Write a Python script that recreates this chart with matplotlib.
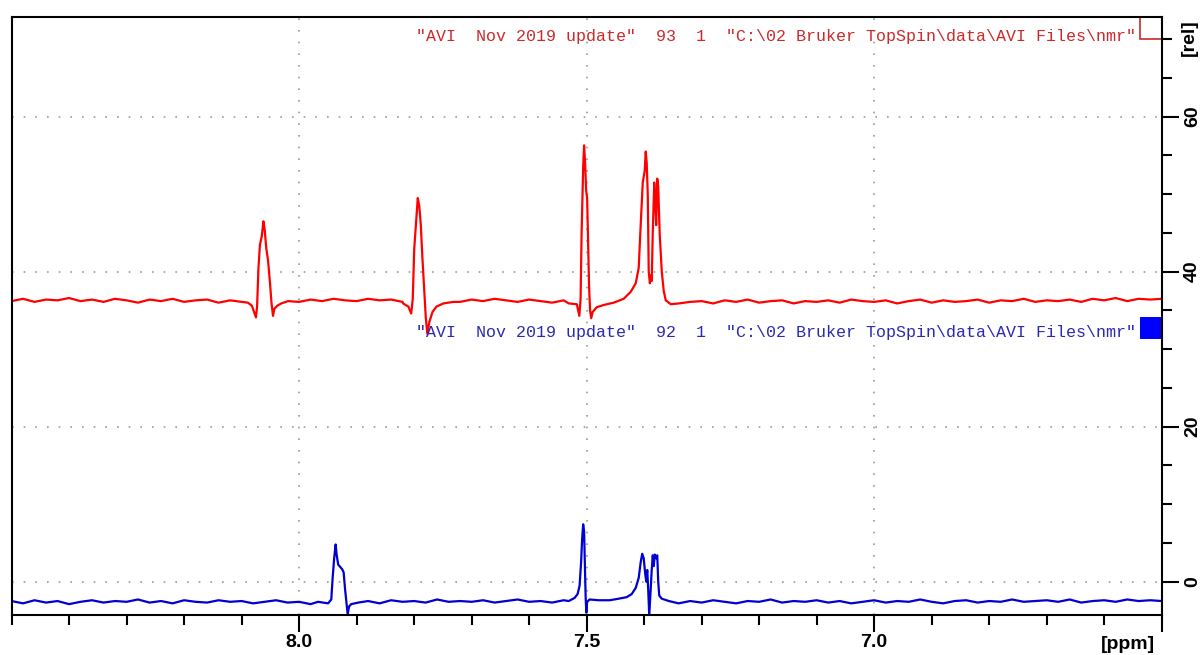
import numpy as np
import matplotlib.pyplot as plt
from matplotlib.patches import Rectangle
from matplotlib.ticker import MultipleLocator, FixedLocator
import matplotlib.transforms as mtrans

# baseline readings every 0.02 ppm from 8.50 down to 6.50
grid_ppm = np.linspace(8.5, 6.5, 101)

red_base = [36.2, 36.5, 36.1, 36.4, 36.3, 36.6, 36.2, 36.4, 36.1, 36.5,
            36.3, 36.0, 36.4, 36.2, 36.5, 36.1, 36.3, 36.4, 36.0, 36.3,
            36.1, 35.9, 36.2, 36.0, 36.2, 36.1, 36.4, 36.2, 36.5, 36.3,
            36.2, 36.5, 36.3, 36.4, 36.1, 36.3, 36.0, 35.8, 36.2, 36.1,
            36.4, 36.2, 36.5, 36.3, 36.1, 36.4, 36.2, 36.0, 36.3, 36.0,
            35.8, 35.6, 35.8, 36.2, 37.5, 38.0, 36.0, 36.0, 35.8, 36.1,
            36.2, 35.9, 36.3, 36.1, 36.4, 36.0, 36.2, 36.3, 35.9, 36.2,
            36.1, 36.3, 36.0, 36.4, 36.2, 36.1, 36.3, 35.9, 36.2, 36.4,
            36.0, 36.3, 36.1, 36.2, 36.4, 36.0, 36.3, 36.2, 36.5, 36.1,
            36.3, 36.2, 36.4, 36.1, 36.5, 36.3, 36.6, 36.2, 36.5, 36.4,
            36.5]

blue_base = [-2.5, -2.8, -2.4, -2.7, -2.5, -2.9, -2.6, -2.4, -2.7, -2.5,
             -2.6, -2.3, -2.7, -2.5, -2.8, -2.4, -2.6, -2.7, -2.4, -2.6,
             -2.5, -2.8, -2.6, -2.4, -2.7, -2.6, -2.9, -2.7, -2.5, -2.6,
             -2.7, -2.5, -2.8, -2.4, -2.6, -2.5, -2.7, -2.3, -2.6, -2.5,
             -2.6, -2.4, -2.7, -2.5, -2.3, -2.6, -2.5, -2.7, -2.4, -2.6,
             -2.6, -2.5, -2.4, -2.5, -2.3, -2.0, -2.0, -2.6, -2.8, -2.5,
             -2.7, -2.4, -2.6, -2.8, -2.5, -2.6, -2.3, -2.7, -2.5, -2.6,
             -2.4, -2.7, -2.5, -2.8, -2.6, -2.4, -2.7, -2.5, -2.6, -2.3,
             -2.6, -2.8, -2.5, -2.4, -2.7, -2.5, -2.6, -2.3, -2.6, -2.5,
             -2.4, -2.6, -2.3, -2.7, -2.5, -2.4, -2.6, -2.3, -2.5, -2.4,
             -2.5]

# peak regions, spectrum 93 (red)
red_p1_ppm = [8.089, 8.082, 8.075, 8.073, 8.0706, 8.068, 8.065, 8.062, 8.0599,
              8.057, 8.054, 8.0505, 8.048, 8.0453, 8.043, 8.038, 8.031, 8.019]
red_p1_val = [36.0, 35.6, 34.1, 35.5, 40.5, 43.5, 44.5, 46.5, 45.5,
              43.0, 41.5, 38.5, 36.0, 34.3, 35.2, 35.6, 35.9, 36.2]

red_p2_ppm = [7.819, 7.810, 7.805, 7.8023, 7.7997, 7.796, 7.7936, 7.791, 7.7883,
              7.7857, 7.782, 7.7796, 7.777, 7.7735, 7.768, 7.761, 7.749, 7.732]
red_p2_val = [35.9, 35.5, 34.6, 36.5, 43.0, 47.0, 49.5, 48.5, 46.0,
              42.0, 37.0, 34.0, 32.0, 33.5, 34.8, 35.5, 35.9, 36.1]

red_p3_ppm = [7.531, 7.517, 7.5127, 7.5105, 7.5087, 7.506, 7.5044, 7.5026, 7.5009,
              7.4991, 7.4974, 7.4957, 7.494, 7.492, 7.4895, 7.4826, 7.4704, 7.453,
              7.4355, 7.4233, 7.4146, 7.4094, 7.406, 7.4024, 7.399, 7.3972, 7.3955,
              7.3937, 7.392, 7.390, 7.3885, 7.3868, 7.385, 7.3824, 7.3807, 7.379,
              7.3772, 7.3755, 7.373, 7.3693, 7.3659, 7.3624, 7.3537, 7.3397]
red_p3_val = [35.9, 35.8, 34.3, 36.5, 45.0, 53.5, 56.3, 54.0, 50.5,
              49.5, 44.0, 38.0, 35.0, 34.0, 34.8, 35.4, 35.7, 36.0,
              36.5, 37.4, 38.5, 40.5, 46.0, 51.5, 53.0, 55.5, 54.0,
              50.0, 40.0, 38.5, 39.5, 38.8, 45.0, 51.5, 49.0, 46.0,
              52.0, 51.0, 45.0, 40.0, 37.5, 36.3, 35.8, 35.9]

# peak regions, spectrum 92 (blue)
blue_p1_ppm = [7.967, 7.9495, 7.944, 7.9416, 7.939, 7.9364, 7.9347, 7.932, 7.9286,
               7.925, 7.9225, 7.92, 7.9173, 7.9155, 7.913, 7.9094, 7.897]
blue_p1_val = [-2.6, -2.8, -2.3, 0.5, 3.0, 4.8, 3.5, 2.2, 1.9,
               1.6, 1.2, -1.0, -3.0, -4.2, -3.2, -2.9, -2.7]

blue_p2_ppm = [7.531, 7.5209, 7.5157, 7.5122, 7.5096, 7.5078, 7.506, 7.5044, 7.503,
               7.5017, 7.5005, 7.4991, 7.4948, 7.479]
blue_p2_val = [-2.5, -2.1, -1.6, -0.5, 2.5, 5.5, 7.4, 6.5, 2.0,
               -2.0, -4.0, -2.6, -2.3, -2.4]

blue_p3_ppm = [7.4443, 7.4303, 7.4216, 7.4146, 7.4094, 7.406, 7.4033, 7.4007, 7.3981,
               7.3963, 7.3946, 7.3929, 7.3911, 7.3894, 7.3868, 7.385, 7.3833, 7.3815,
               7.379, 7.3772, 7.3755, 7.3737, 7.3693, 7.357]
blue_p3_val = [-2.2, -2.0, -1.6, -0.8, 0.5, 2.5, 3.6, 3.0, 1.0,
               0.0, 1.5, -1.0, -4.4, -2.0, 1.5, 3.4, 2.0, 3.5,
               3.0, 3.4, 0.0, -1.8, -2.2, -2.5]

red_label = '"AVI  Nov 2019 update"  93  1  "C:\\02 Bruker TopSpin\\data\\AVI Files\\nmr"'
blue_label = '"AVI  Nov 2019 update"  92  1  "C:\\02 Bruker TopSpin\\data\\AVI Files\\nmr"'


def build(base, segs):
    keep = np.ones(len(grid_ppm), bool)
    xs, ys = [], []
    for p, v in segs:
        keep &= ~((grid_ppm <= max(p)) & (grid_ppm >= min(p)))
        xs += p
        ys += v
    x = np.concatenate([grid_ppm[keep], xs])
    y = np.concatenate([np.array(base)[keep], ys])
    o = np.argsort(-x)
    return x[o], y[o]


rx, ry = build(red_base, [(red_p1_ppm, red_p1_val), (red_p2_ppm, red_p2_val),
                          (red_p3_ppm, red_p3_val)])
bx, by = build(blue_base, [(blue_p1_ppm, blue_p1_val), (blue_p2_ppm, blue_p2_val),
                           (blue_p3_ppm, blue_p3_val)])

fig = plt.figure(figsize=(12, 6.55), dpi=100)
ax = fig.add_axes([0.0096, 0.0611, 0.9585, 0.9134])

ax.plot(rx, ry, color='#ff0000', lw=1.6)
ax.plot(bx, by, color='#0000d0', lw=1.6)

ax.set_xlim(8.5, 6.5)
ax.set_ylim(-4.3, 72.9)

ax.xaxis.set_major_locator(FixedLocator([8.0, 7.5, 7.0, 6.5]))
ax.set_xticklabels(['8.0', '7.5', '7.0', ''])
ax.xaxis.set_minor_locator(MultipleLocator(0.1))
ax.yaxis.set_major_locator(FixedLocator([0, 20, 40, 60]))
ax.yaxis.set_minor_locator(MultipleLocator(5))
ax.yaxis.tick_right()

bold = dict(family='Liberation Sans', weight='bold', size=14)
for t in ax.get_xticklabels():
    t.set(**bold)
for t in ax.get_yticklabels():
    t.set(**bold)
    t.set_rotation(90)
    t.set_va('center')

ax.tick_params(which='major', length=12, width=1.5, direction='out')
ax.tick_params(which='minor', length=7, width=1.5, direction='out')
ax.tick_params(axis='x', which='major', pad=2)
ax.tick_params(axis='y', which='major', pad=4)
for s in ax.spines.values():
    s.set_linewidth(1.5)

for gx in [8.0, 7.5, 7.0]:
    ax.axvline(gx, color='#999999', lw=1.2, ls=(0, (1, 6)), zorder=0)
for gy in [0, 20, 40, 60]:
    ax.axhline(gy, color='#999999', lw=1.2, ls=(0, (1, 6)), zorder=0)

tr = mtrans.blended_transform_factory(ax.transAxes, ax.transData)

ax.text(0.9945, -0.05, '[ppm]', transform=ax.transAxes, ha='right', va='center', **bold)
ax.text(1.0243, 70.2, '[rel]', transform=tr, ha='center', va='center',
        rotation=90, clip_on=False, **bold)

mono = dict(family='Liberation Mono', size=12)
ax.text(0.978, 70.4, red_label, color='#cc2a2a', ha='right', va='center',
        transform=tr, **mono)
ax.text(0.978, 32.1, blue_label, color='#2a2ab0', ha='right', va='center',
        transform=tr, **mono)

ax.add_patch(Rectangle((0.981, 70.0), 0.019, 2.9, transform=tr, fill=False,
                       edgecolor='#cc2a2a', lw=1.2, clip_on=False))
ax.add_patch(Rectangle((0.981, 31.3), 0.019, 2.8, transform=tr, facecolor='#0000ff',
                       edgecolor='none', clip_on=False))

fig.savefig('out.png', dpi=100)
